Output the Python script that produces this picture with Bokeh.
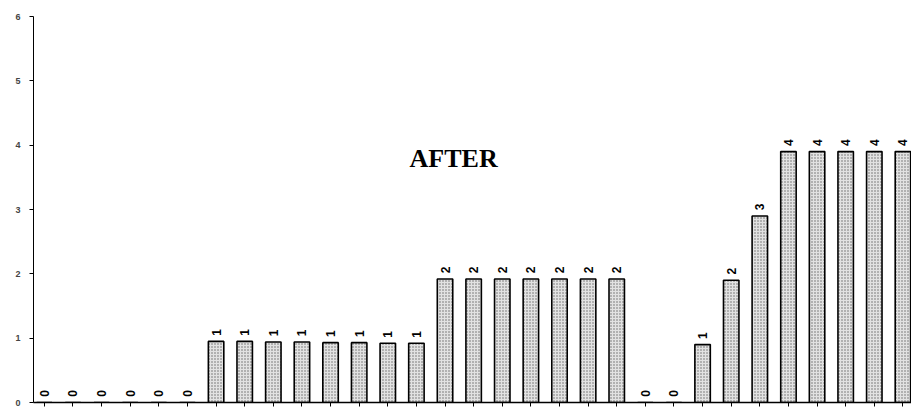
import math
from bokeh.plotting import figure
from bokeh.models import ColumnDataSource, Range1d, Label, FixedTicker
from bokeh.core.properties import value
from bokeh.embed import file_html
from bokeh.resources import INLINE

# Data (31 bars)
positions = list(range(31))
heights = [0, 0, 0, 0, 0, 0,
           0.95, 0.95, 0.94, 0.94, 0.93, 0.93, 0.92, 0.92,
           1.92, 1.92, 1.92, 1.92, 1.92, 1.92, 1.92,
           0, 0,
           0.9, 1.9, 2.9,
           3.9, 3.9, 3.9, 3.9, 3.9]
labels = ["0", "0", "0", "0", "0", "0",
          "1", "1", "1", "1", "1", "1", "1", "1",
          "2", "2", "2", "2", "2", "2", "2",
          "0", "0",
          "1", "2", "3",
          "4", "4", "4", "4", "4"]
y_ticks = [0, 1, 2, 3, 4, 5, 6]
title_text = "AFTER"

src = ColumnDataSource(dict(x=positions, top=heights, lab=labels))

p = figure(width=911, height=412, output_backend="svg", toolbar_location=None,
           x_range=Range1d(-0.38, 30.3), y_range=Range1d(0, 6),
           min_border_left=33, min_border_right=0, min_border_top=16, min_border_bottom=10)
p.outline_line_color = None
p.xgrid.grid_line_color = None
p.ygrid.grid_line_color = None
p.background_fill_color = "white"

p.vbar(x="x", top="top", bottom=0, width=0.54, source=src,
       fill_color="#e2e2e2", line_color="black", line_width=1.6,
       hatch_pattern="dot", hatch_color="#666666", hatch_scale=3, hatch_weight=1)

p.text(x="x", y="top", text="lab", source=src, angle=math.pi / 2,
       text_align="center", text_baseline="middle", y_offset=-9,
       text_font=value("Liberation Sans"), text_font_style="bold",
       text_font_size="12px", text_color="black")

p.add_layout(Label(x=14.3, y=3.8, text=title_text, text_align="center",
                   text_baseline="middle", text_font="Liberation Serif",
                   text_font_style="bold", text_font_size="26px", text_color="black"))

p.yaxis.ticker = FixedTicker(ticks=y_ticks)
p.yaxis.minor_tick_line_color = None
p.yaxis.major_tick_in = 0
p.yaxis.major_tick_out = 4
p.yaxis.major_label_standoff = 9
p.yaxis.major_label_text_font = "Liberation Sans"
p.yaxis.major_label_text_font_style = "bold"
p.yaxis.major_label_text_font_size = "9px"
p.yaxis.axis_line_color = "black"
p.yaxis.axis_line_width = 1

p.xaxis.ticker = FixedTicker(ticks=positions)
p.xaxis.minor_tick_line_color = None
p.xaxis.major_tick_in = 0
p.xaxis.major_tick_out = 4
p.xaxis.major_label_text_font_size = "0px"
p.xaxis.major_label_text_color = None
p.xaxis.major_label_standoff = 0
p.xaxis.axis_line_color = "black"
p.xaxis.axis_line_width = 1.5

open("out.html", "w").write(file_html(p, INLINE))
